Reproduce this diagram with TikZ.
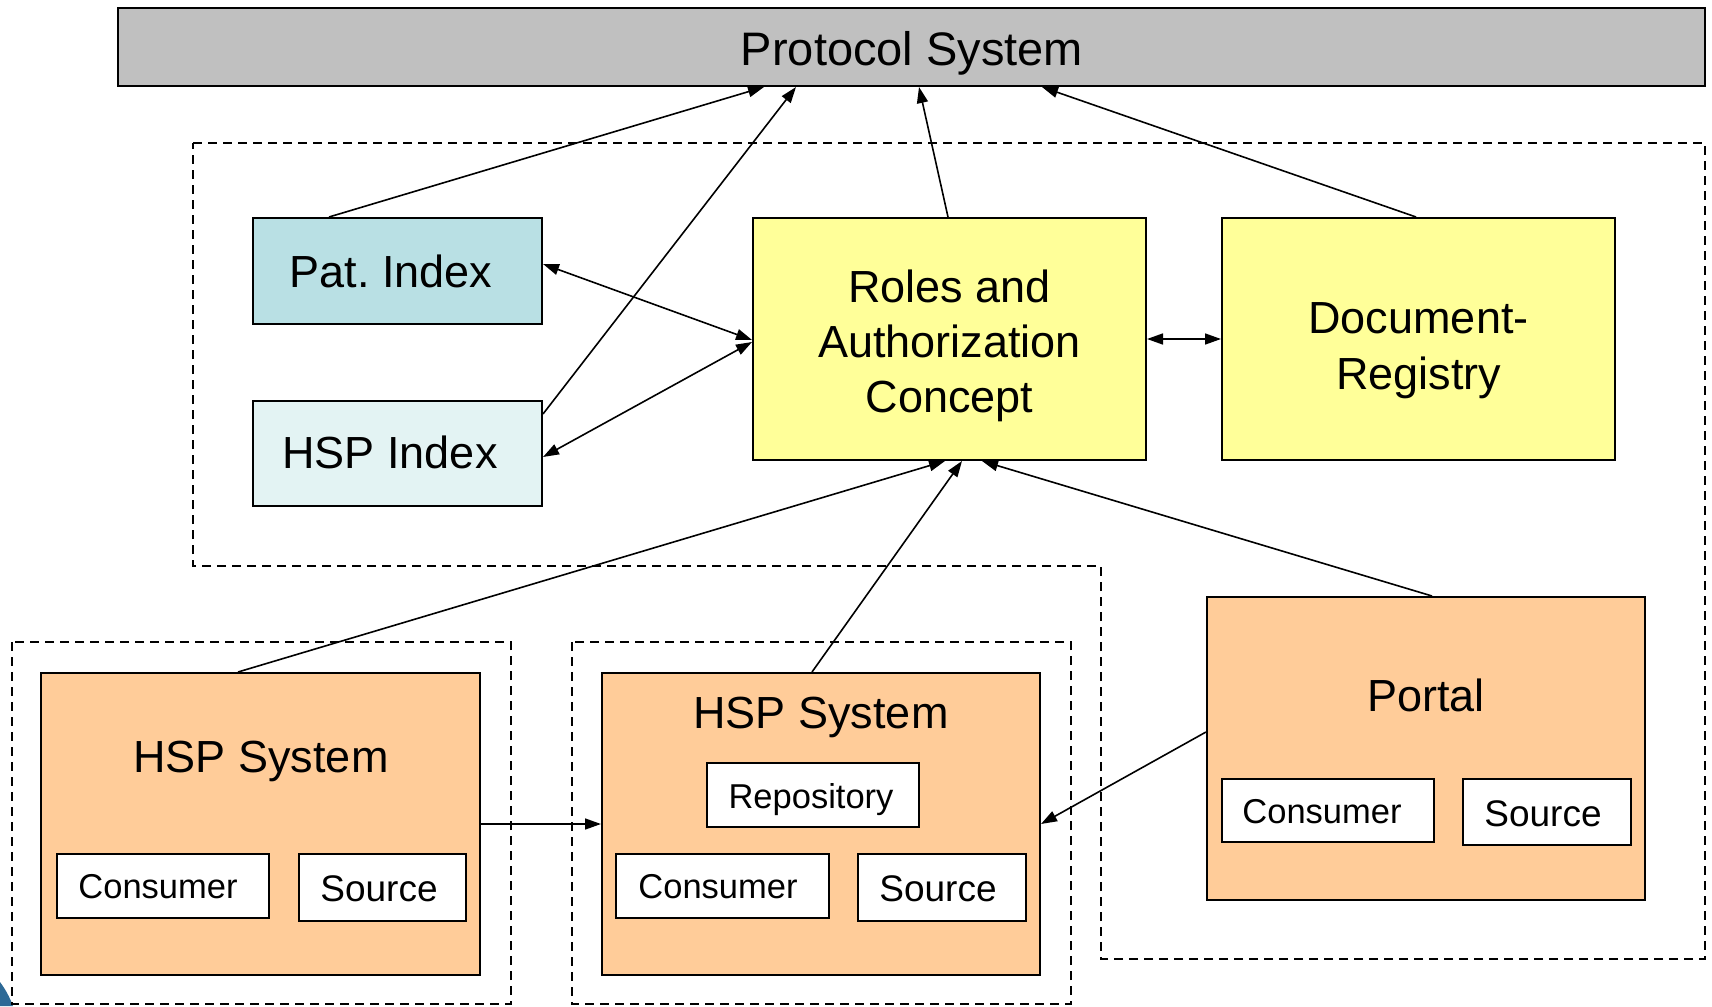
\documentclass[tikz,border=0pt]{standalone}
\usepackage{fontspec}
\setmainfont{Liberation Sans}
\usetikzlibrary{arrows.meta,fit,calc}
\definecolor{protgray}{RGB}{192,192,192}
\definecolor{patfill}{RGB}{185,224,228}
\definecolor{hspidxfill}{RGB}{227,243,243}
\definecolor{yellowfill}{RGB}{255,255,153}
\definecolor{orangefill}{RGB}{255,204,153}
\definecolor{cornerblue}{RGB}{45,105,150}
\tikzset{
  box/.style={draw=black, line width=1pt, inner sep=0pt},
  captxt/.style={inner sep=0pt, text depth=0pt},
  prottxt/.style={captxt, font=\fontsize{23.5}{28}\selectfont, text height=16.8pt},
  bigtxt/.style={captxt, font=\fontsize{22.5}{27.3}\selectfont, text height=16.1pt},
  smalltxt/.style={captxt, font=\fontsize{17.25}{20}\selectfont, text height=12.35pt},
  srctxt/.style={captxt, font=\fontsize{18.5}{21}\selectfont, text height=13.25pt},
  inner/.style={box, fill=white},
  dashbox/.style={draw=black, line width=0.9pt, dash pattern=on 4.5pt off 3pt},
  arr/.style={line width=0.8pt, -{Triangle[length=8pt,width=5.5pt]}},
  darr/.style={line width=0.8pt, {Triangle[length=8pt,width=5.5pt]}-{Triangle[length=8pt,width=5.5pt]}}
}
\begin{document}
\begin{tikzpicture}[x=0.5pt,y=-0.5pt]
\useasboundingbox (0,0) rectangle (1712,1006);
% corner artifact
\fill[cornerblue] (0,982) .. controls (6,990) and (10,998) .. (13,1006) -- (0,1006) -- cycle;
% dashed groups
\draw[dashbox] (193,143) -- (1705,143) -- (1705,959) -- (1101,959) -- (1101,566) -- (193,566) -- cycle;
\draw[dashbox] (12,642) rectangle (511,1004);
\draw[dashbox] (572,642) rectangle (1071,1004);
% protocol
\node[box, fill=protgray, fit={(118,8)(1705,86)}] (prot) {};
\node[prottxt] (prottxt) at (912,48.5) {Protocol System};
% indices
\node[box, fill=patfill, fit={(253,218)(542,324)}] (pat) {};
\node[bigtxt] (pattxt) at (391,271.5) {Pat.\ Index};
\node[box, fill=hspidxfill, fit={(253,401)(542,506)}] (hspidx) {};
\node[bigtxt] (hspidxtxt) at (390,452) {HSP Index};
% roles & registry
\node[box, fill=yellowfill, fit={(753,218)(1146,460)}] (roles) {};
\node[bigtxt] (roles1) at (949.5,286.7) {Roles and};
\node[bigtxt] (roles2) at (949.5,341.7) {Authorization};
\node[bigtxt] (roles3) at (949.5,396.7) {Concept};
\node[box, fill=yellowfill, fit={(1222,218)(1615,460)}] (docreg) {};
\node[bigtxt] (docreg1) at (1418.5,317) {Document-};
\node[bigtxt] (docreg2) at (1418.5,373) {Registry};
% left HSP system
\node[box, fill=orangefill, fit={(41,673)(480,975)}] (lhsp) {};
\node[bigtxt] (lhsptxt) at (261,756) {HSP System};
\node[inner, fit={(57,854)(269,918)}] (lcons) {};
\node[smalltxt] (lconstxt) at (158,886) {Consumer};
\node[inner, fit={(299,854)(466,921)}] (lsrc) {};
\node[srctxt] (lsrctxt) at (379,888) {Source};
% middle HSP system
\node[box, fill=orangefill, fit={(602,673)(1040,975)}] (mhsp) {};
\node[bigtxt] (mhsptxt) at (821,712) {HSP System};
\node[inner, fit={(707,763)(919,827)}] (mrepo) {};
\node[smalltxt] (mrepotxt) at (811,796) {Repository};
\node[inner, fit={(616,854)(829,918)}] (mcons) {};
\node[smalltxt] (mconstxt) at (718,886) {Consumer};
\node[inner, fit={(858,854)(1026,921)}] (msrc) {};
\node[srctxt] (msrctxt) at (938,888) {Source};
% portal
\node[box, fill=orangefill, fit={(1207,597)(1645,900)}] (portal) {};
\node[bigtxt] (portaltxt) at (1426,695) {Portal};
\node[inner, fit={(1222,779)(1434,842)}] (pcons) {};
\node[smalltxt] (pconstxt) at (1322,811) {Consumer};
\node[inner, fit={(1463,779)(1631,845)}] (psrc) {};
\node[srctxt] (psrctxt) at (1543,813) {Source};
% connectors to protocol
\draw[arr] ($(pat.north west)+(77,0)$) -- ($(prot.south west)+(647,0)$);
\draw[arr] ($(hspidx.north east)+(0,14)$) -- ($(prot.south west)+(679,0)$);
\draw[arr] ($(roles.north west)+(196,0)$) -- ($(prot.south west)+(802,0)$);
\draw[arr] ($(docreg.north west)+(195,0)$) -- ($(prot.south west)+(925,0)$);
% indices <-> roles
\draw[darr] ($(pat.north east)+(0,47)$) -- ($(roles.west)+(0,1)$);
\draw[darr] ($(hspidx.north east)+(0,57)$) -- ($(roles.west)+(0,3)$);
\draw[darr] (roles.east) -- (docreg.west);
% systems -> roles
\draw[arr] ($(lhsp.north west)+(198,0)$) -- ($(roles.south west)+(193,0)$);
\draw[arr] ($(mhsp.north west)+(211,0)$) -- ($(roles.south west)+(210,0)$);
\draw[arr] ($(portal.north west)+(226,0)$) -- ($(roles.south west)+(230,0)$);
% between systems
\draw[arr] (lhsp.east) -- (mhsp.west);
\draw[arr] ($(portal.north west)+(0,136)$) -- (mhsp.east);
\end{tikzpicture}
\end{document}
